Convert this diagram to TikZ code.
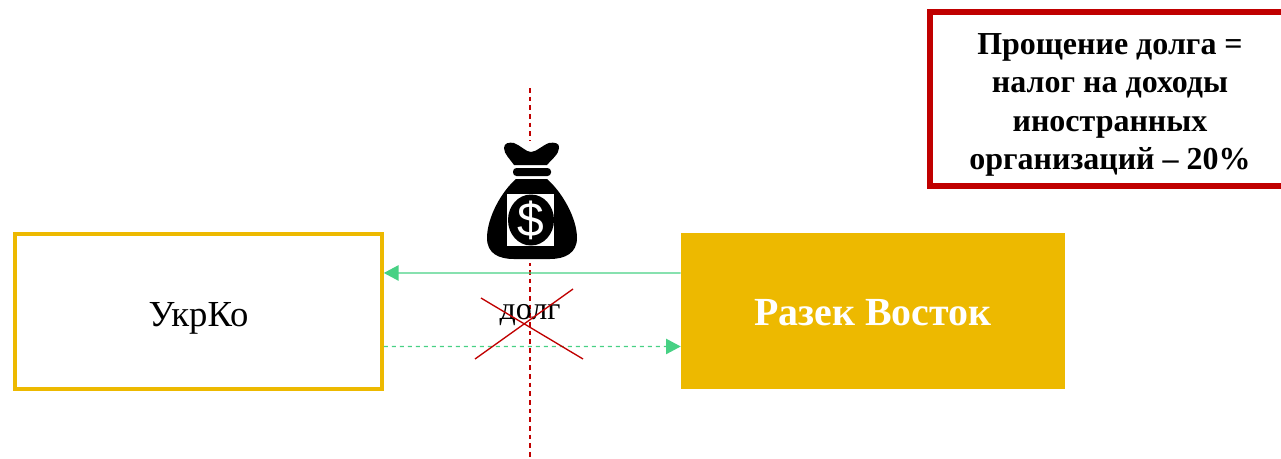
\documentclass[tikz,border=0pt]{standalone}
\usepackage{fontspec}
\usepackage{xcolor}
\setmainfont{Liberation Serif}
\newfontfamily\dollarfont{Liberation Sans}
\usetikzlibrary{arrows.meta}
\definecolor{boxgold}{HTML}{EDB900}
\definecolor{flowgreen}{HTML}{47D184}
\definecolor{noticered}{HTML}{C00000}
\tikzset{
    partybox/.style={minimum width=#1, minimum height=116.5pt, inner sep=0pt, text height=22pt, text depth=0pt},
    flow/.style={flowgreen, line width=0.95pt, -{Triangle[length=11pt, width=11.5pt]}},
    cutline/.style={noticered, line width=1pt},
}

\begin{document}
\begin{tikzpicture}[x=0.75pt, y=-0.75pt]
    \path[use as bounding box, clip] (0,0) rectangle (1281,458);

    \draw[cutline, line width=0.8pt, dash pattern=on 3.5pt off 3pt] (530,88) -- (530,458);

    % money bag
    \fill[white] (487,141) rectangle (577,263);
    \fill (514,165) .. controls (510,159) and (504,154) .. (504,148)
        .. controls (504,143) and (509,142) .. (514,143)
        .. controls (520,145) and (526,152) .. (531,152)
        .. controls (536,152) and (543,145) .. (549,143)
        .. controls (554,142) and (560,143) .. (559,148)
        .. controls (559,154) and (552,159) .. (547,165) -- cycle;
    \fill[rounded corners=2.6pt] (513,168) rectangle (551,176);
    \fill (516,179) -- (547,179)
        .. controls (562,192) and (577,218) .. (577,238)
        .. controls (577,253) and (565,259) .. (550,259)
        -- (514,259)
        .. controls (498,259) and (487,253) .. (487,238)
        .. controls (487,218) and (501,192) .. (516,179) -- cycle;
    \fill[white] (507,194) rectangle (554,246);
    \fill (531,220) ellipse [x radius=23, y radius=25.5];
    \node[white, font=\dollarfont\fontsize{36}{36}\selectfont, inner sep=0pt] (dollar) at (531,220) {\$};

    \node[partybox=275pt, draw=boxgold, line width=3pt, font=\fontsize{27.5}{32}\selectfont] (ukrko) at (198.5,311.5) {УкрКо};
    \node[partybox=288pt, fill=boxgold, text=white, font=\bfseries\fontsize{29.9}{34}\selectfont] (razek) at (873,311) {Разек Восток};

    \draw[flow] ([yshift=28.5pt]razek.west) -- ([yshift=28.9pt]ukrko.east);
    \draw[flow, dashed] ([yshift=-26.25pt]ukrko.east) -- ([yshift=-26.6pt]razek.west);

    \node[font=\fontsize{24}{28}\selectfont, inner sep=0pt] (debt) at (530,315.5) {долг};
    \draw[cutline] (481,298) -- (583,359);
    \draw[cutline] (475,359) -- (573,289);

    \node[draw=noticered, line width=4.5pt, minimum width=270pt, minimum height=131pt] (notice) at (1110,99) {};
    \node[align=center, font=\bfseries\fontsize{24}{28.9}\selectfont] (noticetext) at (1110,105)
        {Прощение долга =\\налог на доходы\\иностранных\\организаций – 20\%};
\end{tikzpicture}
\end{document}
